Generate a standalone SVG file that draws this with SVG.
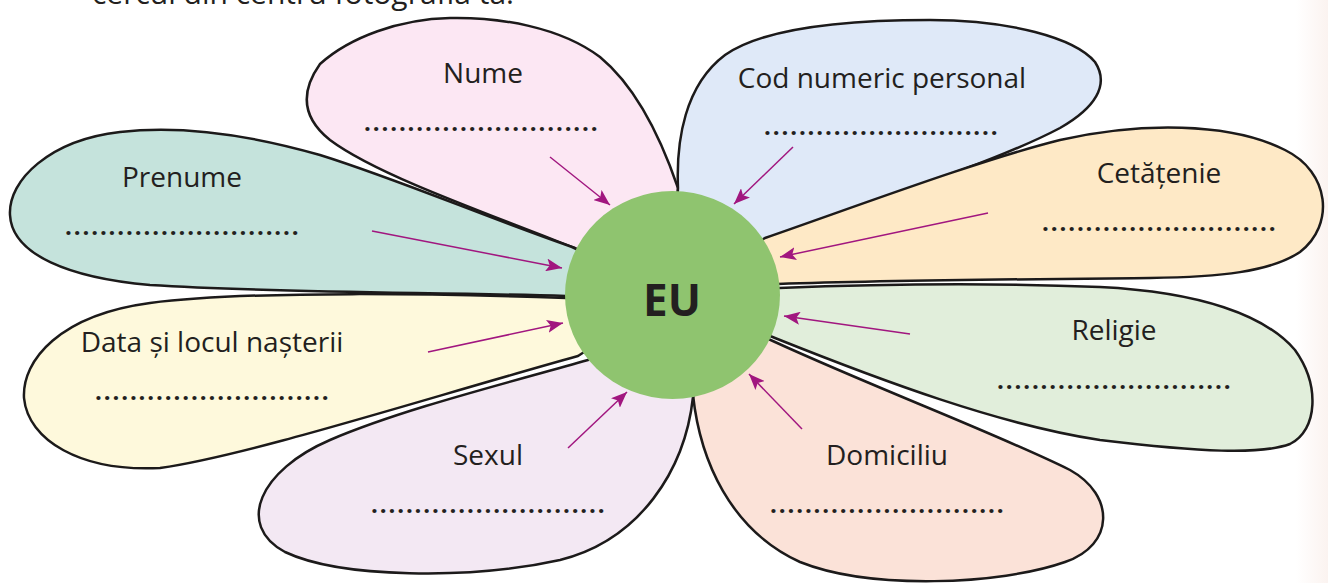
<svg xmlns="http://www.w3.org/2000/svg" width="1328" height="583" viewBox="0 0 1328 583">
<style>
.petal{stroke:#1c1a1a;stroke-width:2.5;stroke-linejoin:round}
.lbl{font-family:"Open Sans","Noto Sans","DejaVu Sans",sans-serif;font-size:28px;fill:#231f20;text-anchor:middle}
.dots{font-family:"Open Sans","Noto Sans","DejaVu Sans",sans-serif;font-size:24px;font-weight:bold;fill:#231f20;letter-spacing:1.88px}
.arr{stroke:#a1167f;stroke-width:1.5;fill:none;marker-end:url(#ah)}
</style>
<defs>
<marker id="ah" markerUnits="userSpaceOnUse" markerWidth="18" markerHeight="13" refX="16" refY="6.5" orient="auto">
<path d="M0,0 L16,6.5 L0,13 L3.5,6.5 Z" fill="#a1167f"/>
</marker>
<linearGradient id="edge" x1="0" y1="0" x2="1" y2="0">
<stop offset="0" stop-color="#ffffff"/>
<stop offset="1" stop-color="#fbf3f0"/>
</linearGradient>
</defs>
<rect x="0" y="0" width="1328" height="583" fill="#ffffff"/>
<rect x="1296" y="0" width="32" height="583" fill="url(#edge)"/>
<text x="92" y="4" style="font-family:'Open Sans','Noto Sans',sans-serif;font-size:30px;fill:#231f20">cercul din centru fotografia ta.</text>

<g id="petal-nume">
<path class="petal" fill="#fce7f3" d="M 678,188 C 665,150 640,90 600,57 C 560,27 500,17 450,18 C 400,19 350,37 320,64 C 298,95 305,120 330,140 C 370,170 450,200 575,248 L 672,295 Z"/>
<text class="lbl" x="483" y="83">Nume</text>
<text class="dots" x="364" y="131">...........................</text>
</g>
<g id="petal-cod">
<path class="petal" fill="#dfe9f8" d="M 678,188 C 676,140 685,85 725,55 C 765,27 850,20 930,20 C 1010,20 1075,38 1095,62 C 1110,85 1095,108 1060,128 C 990,165 860,205 762,240 L 672,295 Z"/>
<text class="lbl" x="882" y="88">Cod numeric personal</text>
<text class="dots" x="764" y="135">...........................</text>
</g>
<g id="petal-cetatenie">
<path class="petal" fill="#fee9c6" d="M 765,238 C 860,205 980,160 1060,140 C 1140,122 1230,122 1285,150 C 1330,172 1335,225 1300,252 C 1270,272 1220,277 1150,278 C 1050,279 900,280 778,284 L 672,295 Z"/>
<text class="lbl" x="1159" y="183">Cetățenie</text>
<text class="dots" x="1042" y="231">...........................</text>
</g>
<g id="petal-religie">
<path class="petal" fill="#e1eedb" d="M 779,288 C 880,284 1000,283 1100,287 C 1200,292 1265,315 1295,350 C 1320,385 1318,430 1290,444 C 1260,455 1200,452 1100,440 C 1000,425 880,380 775,338 L 672,295 Z"/>
<text class="lbl" x="1114" y="340">Religie</text>
<text class="dots" x="997" y="389">...........................</text>
</g>
<g id="petal-domiciliu">
<path class="petal" fill="#fbe2d8" d="M 693,395 C 700,460 730,530 800,562 C 870,590 1000,585 1065,562 C 1115,545 1115,495 1070,470 C 1000,435 880,390 775,342 L 672,295 Z"/>
<text class="lbl" x="887" y="465">Domiciliu</text>
<text class="dots" x="770" y="513">...........................</text>
</g>
<g id="petal-sexul">
<path class="petal" fill="#f3e8f3" d="M 588,360 C 500,385 400,410 330,440 C 260,470 235,525 285,552 C 340,578 470,580 560,560 C 640,540 685,470 693,397 L 672,295 Z"/>
<text class="lbl" x="488" y="465">Sexul</text>
<text class="dots" x="371" y="513">...........................</text>
</g>
<g id="petal-data">
<path class="petal" fill="#fef9dc" d="M 566,298 C 450,294 250,290 150,303 C 60,315 22,360 24,398 C 28,440 80,472 160,468 C 250,455 420,400 578,356 L 672,295 Z"/>
<text class="lbl" x="212" y="352">Data și locul nașterii</text>
<text class="dots" x="95" y="400">...........................</text>
</g>
<g id="petal-prenume">
<path class="petal" fill="#c5e3dc" d="M 572,247 C 480,215 400,180 320,155 C 250,135 180,125 120,132 C 50,140 8,180 10,215 C 12,255 70,278 150,285 C 280,293 430,292 566,296 L 672,295 Z"/>
<text class="lbl" x="182" y="187">Prenume</text>
<text class="dots" x="65" y="235">...........................</text>
</g>

<g id="node-eu">
<ellipse cx="672.5" cy="295" rx="107.5" ry="104" fill="#8fc46f"/>
<text x="672" y="316" style="font-family:'Open Sans','Noto Sans',sans-serif;font-size:44px;font-weight:bold;fill:#231f20;text-anchor:middle">EU</text>
</g>

<g id="connectors">
<line class="arr" x1="550" y1="157" x2="610" y2="205"/>
<line class="arr" x1="793" y1="147" x2="734" y2="204"/>
<line class="arr" x1="988" y1="213" x2="780" y2="257"/>
<line class="arr" x1="910" y1="334" x2="784" y2="316"/>
<line class="arr" x1="802" y1="429" x2="749" y2="374"/>
<line class="arr" x1="568" y1="448" x2="627" y2="392"/>
<line class="arr" x1="428" y1="352" x2="563" y2="323"/>
<line class="arr" x1="372" y1="231" x2="562" y2="268"/>
</g>
</svg>
